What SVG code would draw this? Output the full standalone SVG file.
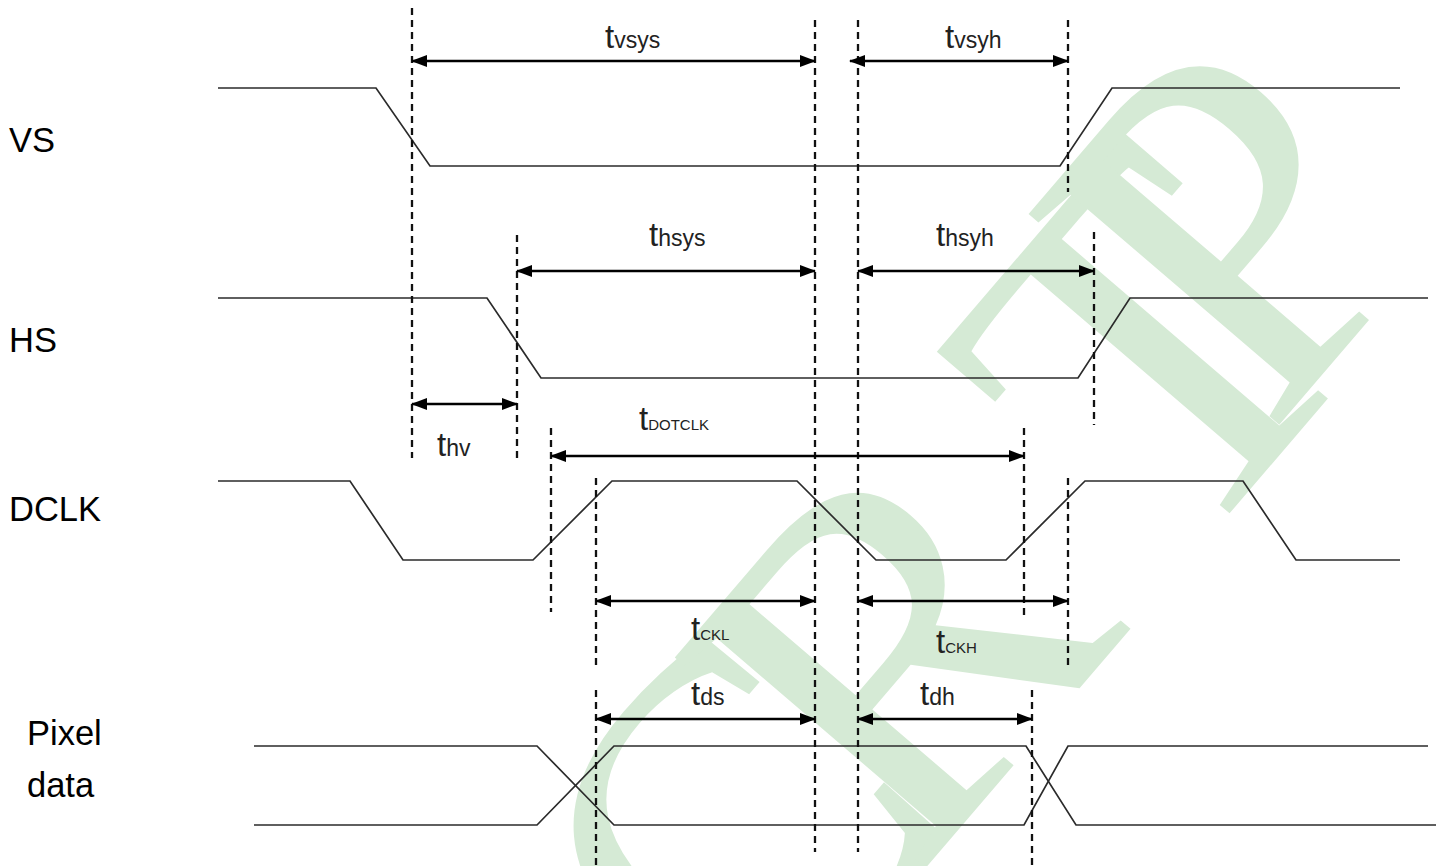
<svg xmlns="http://www.w3.org/2000/svg" width="1442" height="866" viewBox="0 0 1442 866">
<style>
.sig{fill:none;stroke:#2b2b2b;stroke-width:1.7;stroke-linejoin:miter}
.dash{fill:none;stroke:#111;stroke-width:2.3;stroke-dasharray:7 5}
.arr{fill:none;stroke:#000;stroke-width:2.6;marker-start:url(#ah);marker-end:url(#ah)}
.sn{font-family:"Liberation Sans",Arial,sans-serif;font-size:34.5px;fill:#000}
.t{font-family:"Liberation Sans",Arial,sans-serif;font-size:33px;fill:#222}
.s{font-size:23px}
.sc{font-size:15px}
.wm{font-family:"Liberation Serif","Times New Roman",serif;font-size:500px;fill:#d5ead5}
</style>
<defs>
<marker id="ah" viewBox="0 0 16 12" refX="15" refY="6" markerWidth="16" markerHeight="12" markerUnits="userSpaceOnUse" orient="auto-start-reverse">
<path d="M0,0 L16,6 L0,12 Z" fill="#000"/>
</marker>
</defs>
<rect width="1442" height="866" fill="#fff"/>
<g id="watermark" transform="translate(1337,388) rotate(-49.4)">
<text class="wm" x="-900 -650 -242 -83" y="0 0 0 -20">CRTP</text>
</g>
<g id="signal-labels">
<text class="sn" x="9" y="152">VS</text>
<text class="sn" x="9" y="352">HS</text>
<text class="sn" x="9" y="521">DCLK</text>
<text class="sn" x="27" y="745">Pixel</text>
<text class="sn" x="27" y="797">data</text>
</g>
<g id="VS"><polyline class="sig" points="218,88 376,88 430,166 1060,166 1112,88 1400,88"/></g>
<g id="HS"><polyline class="sig" points="218,298 487,298 541,378 1078,378 1130,298 1428,298"/></g>
<g id="DCLK"><polyline class="sig" points="218,481 350,481 403,560 533,560 612,481 797,481 876,560 1006,560 1085,481 1243,481 1296,560 1400,560"/></g>
<g id="PixelData">
<polyline class="sig" points="254,746 537,746 614,825 1024,825 1068,746 1428,746"/>
<polyline class="sig" points="254,825 537,825 614,746 1026,746 1076,825 1436,825"/>
</g>
<g id="connectors">
<line class="dash" x1="412" y1="8" x2="412" y2="458"/>
<line class="dash" x1="517" y1="235" x2="517" y2="458"/>
<line class="dash" x1="551" y1="428" x2="551" y2="612"/>
<line class="dash" x1="596" y1="478" x2="596" y2="668"/>
<line class="dash" x1="596" y1="690" x2="596" y2="866"/>
<line class="dash" x1="815" y1="20" x2="815" y2="852"/>
<line class="dash" x1="858" y1="20" x2="858" y2="852"/>
<line class="dash" x1="1068" y1="20" x2="1068" y2="192"/>
<line class="dash" x1="1094" y1="232" x2="1094" y2="425"/>
<line class="dash" x1="1024" y1="428" x2="1024" y2="615"/>
<line class="dash" x1="1068" y1="478" x2="1068" y2="668"/>
<line class="dash" x1="1032" y1="690" x2="1032" y2="866"/>
<line class="arr" x1="412" y1="61" x2="815" y2="61"/>
<line class="arr" x1="850" y1="61" x2="1068" y2="61"/>
<line class="arr" x1="517" y1="271" x2="815" y2="271"/>
<line class="arr" x1="858" y1="271" x2="1094" y2="271"/>
<line class="arr" x1="412" y1="404" x2="517" y2="404"/>
<line class="arr" x1="551" y1="456" x2="1024" y2="456"/>
<line class="arr" x1="596" y1="601" x2="815" y2="601"/>
<line class="arr" x1="858" y1="601" x2="1068" y2="601"/>
<line class="arr" x1="596" y1="719" x2="815" y2="719"/>
<line class="arr" x1="858" y1="719" x2="1032" y2="719"/>
</g>
<g id="timing-labels">
<text class="t" x="605" y="48">t<tspan class="s">vsys</tspan></text>
<text class="t" x="945" y="48">t<tspan class="s">vsyh</tspan></text>
<text class="t" x="649" y="246">t<tspan class="s">hsys</tspan></text>
<text class="t" x="936" y="246">t<tspan class="s">hsyh</tspan></text>
<text class="t" x="437" y="456">t<tspan class="s">hv</tspan></text>
<text class="t" x="639" y="430">t<tspan class="sc">DOTCLK</tspan></text>
<text class="t" x="691" y="640">t<tspan class="sc">CKL</tspan></text>
<text class="t" x="936" y="653">t<tspan class="sc">CKH</tspan></text>
<text class="t" x="691" y="705">t<tspan class="s">ds</tspan></text>
<text class="t" x="920" y="705">t<tspan class="s">dh</tspan></text>
</g>
</svg>
